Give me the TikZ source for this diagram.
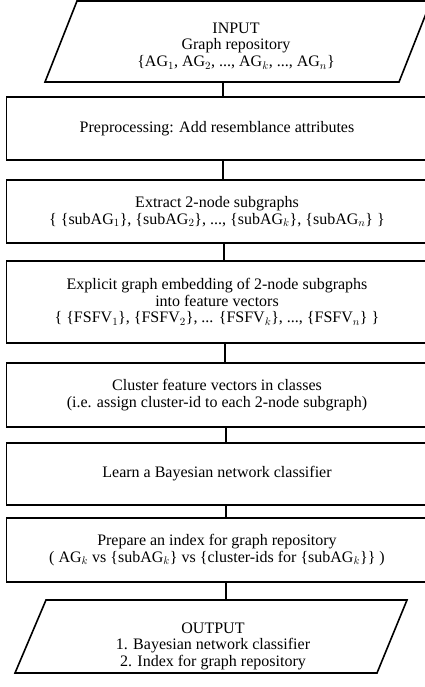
\documentclass[tikz,border=0pt]{standalone}
\usepackage{fontspec}
\setmainfont{Liberation Serif}
\newcommand{\lb}{\{}
\newcommand{\rb}{\}}
\begin{document}
\begin{tikzpicture}[x=1pt,y=-1pt,line width=1.6pt,line join=miter,
  box/.style={draw, minimum width=421pt, inner sep=0pt, align=center, font=\fontsize{16}{16.5}\selectfont},
  txt/.style={inner sep=0pt, align=center, font=\fontsize{16}{16.5}\selectfont},
  link/.style={draw}]
\useasboundingbox (0,0) rectangle (424,687);
% input
\draw (77,1) -- (431,1) -- (399,82) -- (45,82) -- cycle;
\node[txt] (in) at (236,46) {INPUT\\Graph repository\\\lb AG$_1$, AG$_2$, ..., AG$_k$, ..., AG$_n$\rb};
\coordinate (inb) at (223,82);
% boxes
\node[box, minimum height=63pt] (r1) at (217,128.5) {Preprocessing: Add resemblance attributes};
\node[box, minimum height=63pt] (r2) at (217,211.5) {Extract 2-node subgraphs\\\lb{} \lb subAG$_1$\rb, \lb subAG$_2$\rb, ..., \lb subAG$_k$\rb, \lb subAG$_n$\rb{} \rb};
\node[box, minimum height=82pt] (r3) at (217,302) {Explicit graph embedding of 2-node subgraphs\\into feature vectors\\\lb{} \lb FSFV$_1$\rb, \lb FSFV$_2$\rb, ... \lb FSFV$_k$\rb, ..., \lb FSFV$_n$\rb{} \rb};
\node[box, minimum height=64pt] (r4) at (217,395) {Cluster feature vectors in classes\\(i.e. assign cluster-id to each 2-node subgraph)};
\node[box, minimum height=62pt] (r5) at (217,474) {Learn a Bayesian network classifier};
\node[box, minimum height=64pt] (r6) at (217,550) {Prepare an index for graph repository\\( AG$_k$ vs \lb subAG$_k$\rb{} vs \lb cluster-ids for \lb subAG$_k$\rb\rb{} )};
% output
\draw (46,600) -- (407,600) -- (377,673) -- (15,673) -- cycle;
\node[txt] (out) at (213,646) {OUTPUT\\1. Bayesian network classifier\\2. Index for graph repository};
\coordinate (outt) at (226,600);
% connectors
\draw[link] (inb) -- (inb |- r1.north);
\draw[link] ([xshift=6pt]r1.south) -- ([xshift=6pt]r2.north);
\draw[link] ([xshift=7pt]r2.south) -- ([xshift=7pt]r3.north);
\draw[link] ([xshift=8pt]r3.south) -- ([xshift=8pt]r4.north);
\draw[link] ([xshift=9pt]r4.south) -- ([xshift=9pt]r5.north);
\draw[link] ([xshift=9pt]r5.south) -- ([xshift=9pt]r6.north);
\draw[link] ([xshift=9pt]r6.south) -- (outt);
\end{tikzpicture}
\end{document}
